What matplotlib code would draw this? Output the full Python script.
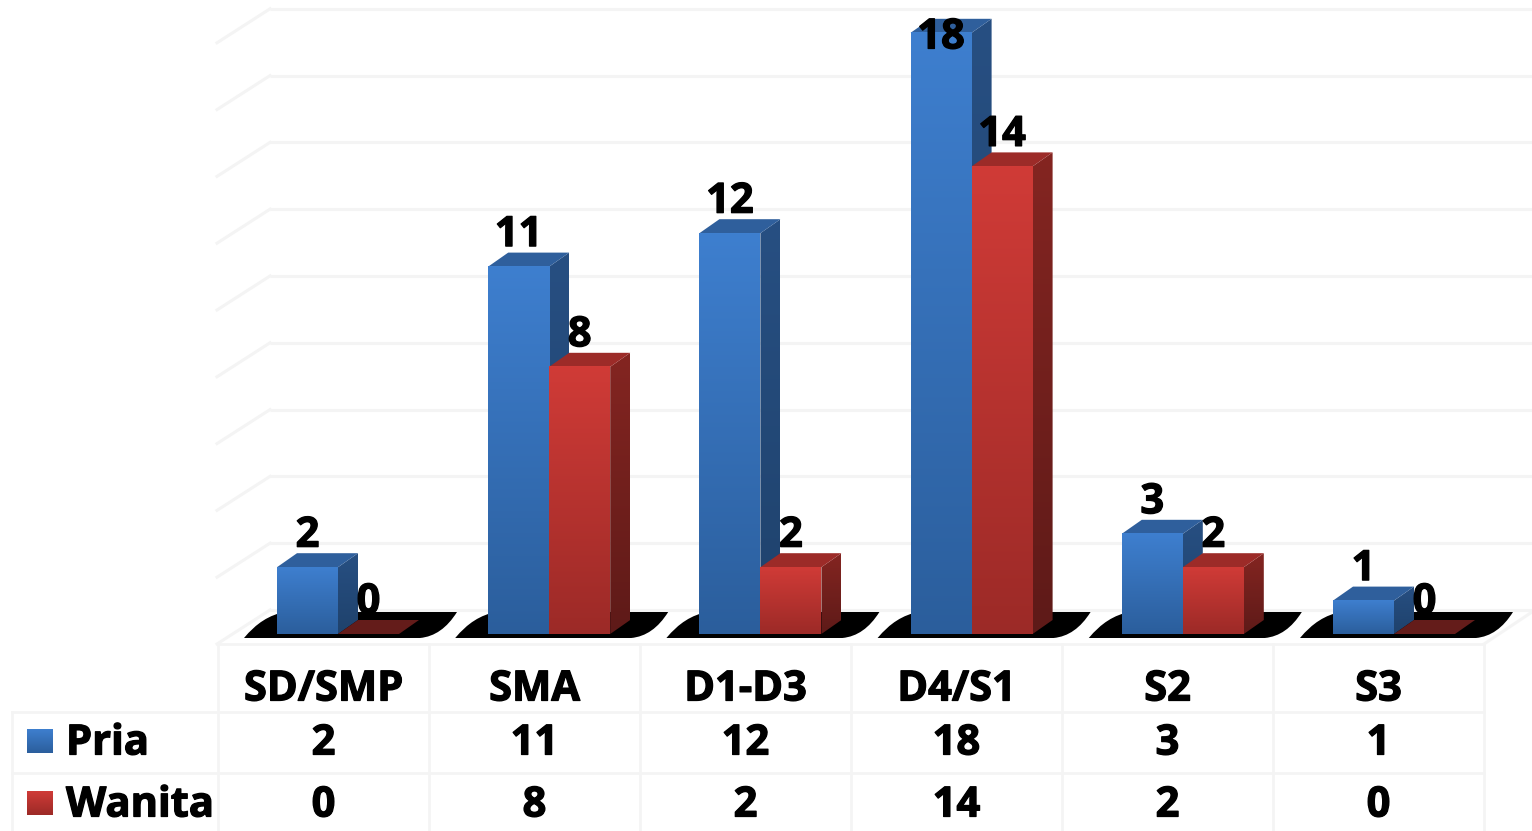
import numpy as np
import matplotlib
matplotlib.use('Agg')
import matplotlib.pyplot as plt
import matplotlib.patheffects as pe
from matplotlib.colors import LinearSegmentedColormap
from matplotlib.patches import Polygon, PathPatch
from matplotlib.path import Path

# data
kategori = ['SD/SMP', 'SMA', 'D1-D3', 'D4/S1', 'S2', 'S3']
pria = [2, 11, 12, 18, 3, 1]
wanita = [0, 8, 2, 14, 2, 0]
gridlevels = [0, 2, 4, 6, 8, 10, 12, 14, 16, 18]

W, H = 1532, 831
plt.rcParams['font.family'] = ['Open Sans', 'DejaVu Sans']

fig = plt.figure(figsize=(W / 100, H / 100), dpi=100)
ax = fig.add_axes([0, 0, 1, 1])

# pixel layout
y0 = 634
unit = 33.4
step = 211.2
x0 = 277
bw = 61
dx, dy = 20, 14
grid_col = '#f4f4f4'
tebal = [pe.withStroke(linewidth=0.9, foreground='black')]
teks = dict(fontweight='bold', color='black', ha='center', va='center', path_effects=tebal)

blue = dict(top='#3e7fcf', bottom='#2b5e9c', side1='#274f82', side2='#1f426c', cap='#2f5f9c')
red = dict(top='#d03b37', bottom='#9c2a27', side1='#842521', side2='#5e1a18', cap='#9c2b28')


def ypos(v):
    return y0 - v * unit


def grad(c1, c2, x1, x2, y1, y2, z):
    cm = LinearSegmentedColormap.from_list('g', [c1, c2])
    return ax.imshow(np.linspace(0, 1, 256).reshape(-1, 1), cmap=cm, aspect='auto',
                     extent=[x1, x2, y2, y1], zorder=z, interpolation='bilinear')


def bar3d(x, v, c, z):
    top = ypos(v)
    if v == 0:
        # kosong, cuma lantai merah gelap
        ax.add_patch(Polygon([(x, y0), (x + bw, y0), (x + bw + dx, y0 - dy), (x + dx, y0 - dy)],
                             fc='#641c1a', ec='none', zorder=z))
        return
    side = Polygon([(x + bw, y0), (x + bw + dx, y0 - dy), (x + bw + dx, top - dy), (x + bw, top)],
                   fc='none', ec='none', zorder=z)
    ax.add_patch(side)
    im = grad(c['side1'], c['side2'], x + bw, x + bw + dx, top - dy, y0, z)
    im.set_clip_path(side)
    ax.add_patch(Polygon([(x, top), (x + bw, top), (x + bw + dx, top - dy), (x + dx, top - dy)],
                         fc=c['cap'], ec='none', zorder=z))
    grad(c['top'], c['bottom'], x, x + bw, top, y0, z + 0.1)


def shadow(x):
    # bayangan hitam di lantai
    pts = [(x - 33, y0 + 4), (x - 15, y0 - 18), (x + 8, y0 - 22),
           (x + 180, y0 - 22), (x + 165, y0 + 2), (x + 143, y0 + 4), (x - 33, y0 + 4)]
    codes = [Path.MOVETO, Path.CURVE3, Path.CURVE3,
             Path.LINETO, Path.CURVE3, Path.CURVE3, Path.CLOSEPOLY]
    ax.add_patch(PathPatch(Path(pts, codes), fc='black', ec='none', zorder=2))


# back wall + side wall grid
for lv in gridlevels:
    gy = 610 - lv * 33.4
    ax.plot([270, W], [gy, gy], color=grid_col, lw=2.2, zorder=1, solid_capstyle='butt')
    ax.plot([217, 270], [gy + 34, gy], color=grid_col, lw=2.2, zorder=1)
ax.plot([1484, W], [644, 612], color=grid_col, lw=2.2, zorder=1)

# table
for ty, xa in [(644, 218), (712, 12), (773, 12)]:
    ax.plot([xa, 1484], [ty, ty], color=grid_col, lw=2, zorder=1)
for i in range(len(kategori) + 1):
    ax.plot([218 + i * 211] * 2, [644, H], color=grid_col, lw=2, zorder=1)
ax.plot([12, 12], [712, H], color=grid_col, lw=2, zorder=1)

# bars
for i in range(len(kategori)):
    x = x0 + i * step
    shadow(x)
    bar3d(x, pria[i], blue, 3 + i)
    bar3d(x + bw, wanita[i], red, 3.4 + i)

# data labels
for i in range(len(kategori)):
    x = x0 + i * step
    for xb, v in [(x + bw / 2, pria[i]), (x + bw * 1.5, wanita[i])]:
        ly = max(ypos(v) - 31, 38)
        ax.text(xb, ly, str(v), fontsize=30, zorder=20, **teks)

# table text
for i, k in enumerate(kategori):
    cx = 323.5 + i * 211
    ax.text(cx, 690, k, fontsize=30, zorder=20, **teks)
    ax.text(cx, 744, str(pria[i]), fontsize=30, zorder=20, **teks)
    ax.text(cx, 806, str(wanita[i]), fontsize=30, zorder=20, **teks)

# legend keys
grad(blue['top'], blue['bottom'], 27, 53, 729, 753, 5)
grad(red['top'], red['bottom'], 27, 53, 791, 815, 5)
ax.text(66, 744, 'Pria', fontsize=30, fontweight='bold', color='black', ha='left', va='center', path_effects=tebal)
ax.text(66, 806, 'Wanita', fontsize=30, fontweight='bold', color='black', ha='left', va='center', path_effects=tebal)

ax.set_xlim(0, W)
ax.set_ylim(H, 0)
ax.axis('off')
fig.savefig('out.png', dpi=100, facecolor='white')
